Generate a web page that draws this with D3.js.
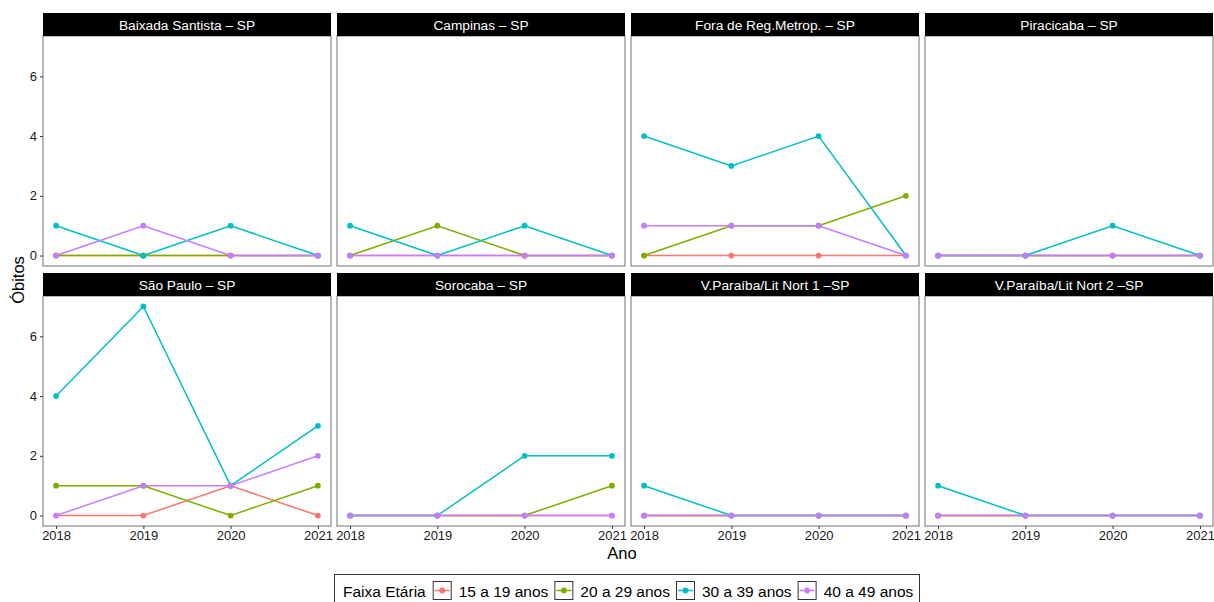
<!DOCTYPE html>
<html>
<head>
<meta charset="utf-8">
<script src="https://cdn.jsdelivr.net/npm/d3@7"></script>
<style>
  body { margin: 0; background: #fff; }
  text { font-family: "Liberation Sans", Arial, sans-serif; }
</style>
</head>
<body>
<svg id="chart" width="1214" height="602"></svg>
<script>
const years = [2018, 2019, 2020, 2021];
const regions = [
  "Baixada Santista – SP", "Campinas – SP", "Fora de Reg.Metrop. – SP", "Piracicaba – SP",
  "São Paulo – SP", "Sorocaba – SP", "V.Paraíba/Lit Nort 1 –SP", "V.Paraíba/Lit Nort 2 –SP"
];
const ageGroups = ["15 a 19 anos", "20 a 29 anos", "30 a 39 anos", "40 a 49 anos"];
const colors = ["#F8766D", "#7CAE00", "#00BFC4", "#C77CFF"];
const yTicks = [0, 2, 4, 6];

// deaths per region, one row per age group, values for 2018..2021
const deaths15_19 = [[0,0,0,0],[0,0,0,0],[0,0,0,0],[0,0,0,0],[0,0,1,0],[0,0,0,0],[0,0,0,0],[0,0,0,0]];
const deaths20_29 = [[0,0,0,0],[0,1,0,0],[0,1,1,2],[0,0,0,0],[1,1,0,1],[0,0,0,1],[0,0,0,0],[0,0,0,0]];
const deaths30_39 = [[1,0,1,0],[1,0,1,0],[4,3,4,0],[0,0,1,0],[4,7,1,3],[0,0,2,2],[1,0,0,0],[1,0,0,0]];
const deaths40_49 = [[0,1,0,0],[0,0,0,0],[1,1,1,0],[0,0,0,0],[0,1,1,2],[0,0,0,0],[0,0,0,0],[0,0,0,0]];
const seriesByAge = [deaths15_19, deaths20_29, deaths30_39, deaths40_49];

const svg = d3.select("#chart");
const PANEL_W = 288, STRIP_H = 23, PANEL_H = 230;
const colX = [43, 337, 631, 925];
const rowY = [13, 273]; // strip tops
const FONT = '"Liberation Sans", Arial, sans-serif';

// ggplot-style 5% expansion
const x = d3.scaleLinear().domain([2018 - 0.05 * 3, 2021 + 0.05 * 3]).range([0, PANEL_W]);
const y = d3.scaleLinear().domain([-0.35, 7.35]).range([PANEL_H, 0]);

regions.forEach((name, i) => {
  const col = i % 4, row = Math.floor(i / 4);
  const g = svg.append("g")
    .attr("transform", `translate(${colX[col]},${rowY[row] + STRIP_H})`);

  // strip
  svg.append("rect")
    .attr("x", colX[col]).attr("y", rowY[row])
    .attr("width", PANEL_W).attr("height", STRIP_H)
    .attr("fill", "#000");
  svg.append("text")
    .attr("x", colX[col] + PANEL_W / 2).attr("y", rowY[row] + 16.5)
    .attr("text-anchor", "middle").attr("fill", "#fff").attr("font-size", "13.7px")
    .text(name);

  const seriesVals = seriesByAge.map(series => series[i].map((v, j) => ({ year: years[j], v })));

  // lines first, then points (like geom_line + geom_point)
  seriesVals.forEach((vals, k) => {
    g.append("path")
      .datum(vals)
      .attr("fill", "none").attr("stroke", colors[k]).attr("stroke-width", 1.5)
      .attr("d", d3.line().x(d => x(d.year)).y(d => y(d.v)));
  });
  seriesVals.forEach((vals, k) => {
    g.selectAll(null).data(vals).enter().append("circle")
      .attr("cx", d => x(d.year)).attr("cy", d => y(d.v)).attr("r", 2.9)
      .attr("fill", colors[k]);
  });

  // border
  g.append("rect")
    .attr("width", PANEL_W).attr("height", PANEL_H)
    .attr("fill", "none").attr("stroke", "#7f7f7f").attr("stroke-width", 1.1);

  // y axis for first column
  if (col === 0) {
    const ya = g.append("g").call(d3.axisLeft(y).tickValues(yTicks).tickSize(3).tickPadding(3));
    ya.select(".domain").remove();
    ya.selectAll("line").attr("stroke", "#333");
    ya.selectAll("text").attr("font-size", "13px").attr("fill", "#1a1a1a").style("font-family", FONT);
  }
  // x axis for bottom row
  if (row === 1) {
    const xa = g.append("g").attr("transform", `translate(0,${PANEL_H})`)
      .call(d3.axisBottom(x).tickValues(years).tickFormat(d3.format("d")).tickSize(3).tickPadding(2));
    xa.select(".domain").remove();
    xa.selectAll("line").attr("stroke", "#333");
    xa.selectAll("text").attr("font-size", "13px").attr("fill", "#1a1a1a").style("font-family", FONT);
  }
});

// axis titles
svg.append("text")
  .attr("x", 622).attr("y", 559).attr("text-anchor", "middle")
  .attr("font-size", "16.5px").attr("fill", "#000").text("Ano");
svg.append("text")
  .attr("transform", "translate(24,280) rotate(-90)").attr("text-anchor", "middle")
  .attr("font-size", "16.5px").attr("fill", "#000").text("Óbitos");

// legend
const lg = svg.append("g");
lg.append("rect")
  .attr("x", 334.5).attr("y", 574.5).attr("width", 585).attr("height", 32)
  .attr("fill", "#fff").attr("stroke", "#333").attr("stroke-width", 1);
let lx = 343;
const title = lg.append("text")
  .attr("x", lx).attr("y", 597).attr("font-size", "15.5px").attr("fill", "#000")
  .text("Faixa Etária");
lx += title.node().getComputedTextLength() + 7;
ageGroups.forEach((lab, k) => {
  lg.append("rect")
    .attr("x", lx + 0.5).attr("y", 581.5).attr("width", 18).attr("height", 18)
    .attr("fill", "#fff").attr("stroke", "#333").attr("stroke-width", 1);
  lg.append("line")
    .attr("x1", lx + 2).attr("x2", lx + 17).attr("y1", 590.5).attr("y2", 590.5)
    .attr("stroke", colors[k]).attr("stroke-width", 1.5);
  lg.append("circle").attr("cx", lx + 9.5).attr("cy", 590.5).attr("r", 2.9).attr("fill", colors[k]);
  const t = lg.append("text")
    .attr("x", lx + 26).attr("y", 597).attr("font-size", "15.5px").attr("fill", "#000")
    .text(lab);
  lx += 26 + t.node().getComputedTextLength() + 6;
});
</script>
</body>
</html>
